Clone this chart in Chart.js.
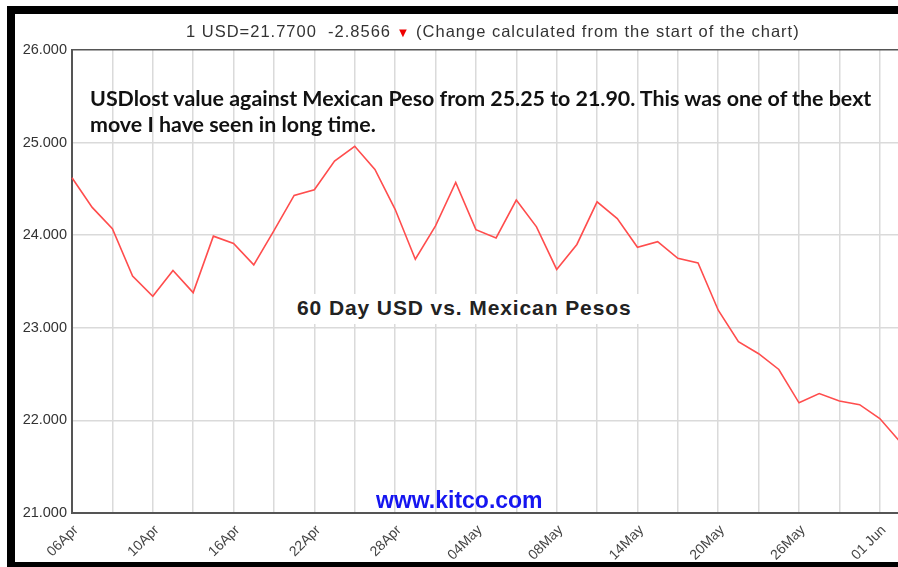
<!DOCTYPE html>
<html>
<head>
<meta charset="utf-8">
<script src="https://cdn.jsdelivr.net/npm/chart.js@4"></script>
<style>
  html, body { margin: 0; padding: 0; background: #fff; overflow: hidden; }
  #wrap { position: relative; width: 898px; height: 567px; overflow: hidden; background: #fff; }
  .bar { position: absolute; background: #000; }
  #barTop { left: 7px; top: 6px; width: 891px; height: 8px; }
  #barLeft { left: 7px; top: 6px; width: 8px; height: 561px; }
  #barBottom { left: 7px; top: 562px; width: 891px; height: 5px; }
  #cv { position: absolute; left: 0; top: 0; }
  .txt { position: absolute; white-space: pre; }
  #header { left: 186px; top: 22px; font: 16.5px "Liberation Sans", Arial, sans-serif; letter-spacing: 1px; color: #333; }
  #header span { color: #e00; font-size: 13px; }
  #note { left: 90px; top: 85px; font: bold 21.4px Lato, sans-serif; color: #111; line-height: 26px; }
  #title { left: 290px; top: 294px; padding: 2px 7px 4px 7px; background: #fff;
           font: bold 21px "Liberation Sans", Arial, sans-serif; letter-spacing: 0.9px; color: #222; }
  #site { left: 376px; top: 487px; font: bold 23px "Liberation Sans", Arial, sans-serif; color: #1515f0; }
</style>
</head>
<body>
<div id="wrap">
  <canvas id="cv" width="903" height="567"></canvas>
  <div class="bar" id="barTop"></div>
  <div class="bar" id="barLeft"></div>
  <div class="bar" id="barBottom"></div>
  <div class="txt" id="header">1 USD=21.7700  -2.8566 <span>▼</span> (Change calculated from the start of the chart)</div>
  <div class="txt" id="note">USDlost value against Mexican Peso from 25.25 to 21.90. This was one of the bext
move I have seen in long time.</div>
  <div class="txt" id="title">60 Day USD vs. Mexican Pesos</div>
  <div class="txt" id="site">www.kitco.com</div>
</div>
<script>
// trading days, 06 Apr - 02 Jun
let days = ['06Apr','07Apr','08Apr','09Apr','10Apr','13Apr','14Apr','15Apr','16Apr','17Apr',
            '20Apr','21Apr','22Apr','23Apr','24Apr','27Apr','28Apr','29Apr','30Apr','01May',
            '04May','05May','06May','07May','08May','11May','12May','13May','14May','15May',
            '18May','19May','20May','21May','22May','25May','26May','27May','28May','29May',
            '01 Jun','02Jun'];

// pesos per USD
let pesos = [24.62, 24.30, 24.07, 23.56, 23.34, 23.62, 23.38, 23.99, 23.91, 23.68,
             24.05, 24.43, 24.49, 24.80, 24.96, 24.71, 24.28, 23.74, 24.10, 24.57,
             24.06, 23.97, 24.38, 24.09, 23.63, 23.90, 24.36, 24.18, 23.87, 23.93,
             23.75, 23.70, 23.19, 22.85, 22.72, 22.55, 22.19, 22.29, 22.21, 22.17,
             22.02, 21.77];

let yMin = 21;
let yMax = 26;

let ctx = document.getElementById('cv').getContext('2d');

let chart = new Chart(ctx, {
    type: 'line',
    data: {
        labels: days,
        datasets: [{
            label: 'USD/MXN',
            data: pesos,
            borderColor: '#ff4d4d',
            borderWidth: 1.6,
            pointRadius: 0,
            tension: 0
        }]
    },
    options: {
        responsive: false,
        animation: false,
        layout: { padding: { top: 50, right: 3, left: 0, bottom: 0 } },
        plugins: {
            legend: { display: false },
            tooltip: { enabled: false }
        },
        scales: {
            x: {
                offset: false,
                afterFit: function (scale) {
                    scale.height = 54;
                    scale.paddingLeft = 0;
                    scale.paddingRight = 0;
                },
                grid: {
                    drawTicks: false,
                    lineWidth: 1.5,
                    color: function (c) { return c.index % 2 === 0 ? '#dadada' : 'rgba(0,0,0,0)'; }
                },
                border: { color: '#555', width: 2 },
                ticks: {
                    autoSkip: false,
                    maxRotation: 45,
                    minRotation: 45,
                    padding: 9,
                    labelOffset: 4,
                    color: '#444',
                    font: { family: 'Liberation Sans', size: 14 },
                    callback: function (v, i) { return i % 4 === 0 ? days[i] : ''; }
                }
            },
            y: {
                min: yMin,
                max: yMax,
                afterFit: function (scale) {
                    scale.width = 72;
                    scale.paddingTop = 0;
                    scale.paddingBottom = 0;
                },
                grid: {
                    drawTicks: false,
                    lineWidth: 1.5,
                    color: function (c) { return c.tick.value === yMax ? '#555' : '#dadada'; }
                },
                border: { color: '#555', width: 2 },
                ticks: {
                    stepSize: 1,
                    padding: 5,
                    color: '#333',
                    font: { family: 'Liberation Sans', size: 14.5 },
                    callback: function (v) { return v.toFixed(3); }
                }
            }
        }
    }
});
</script>
</body>
</html>
